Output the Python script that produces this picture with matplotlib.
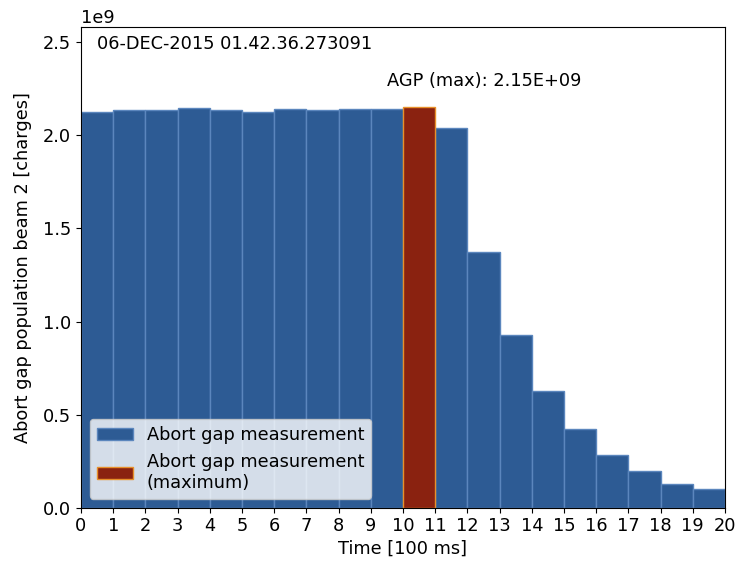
import numpy as np
import matplotlib
matplotlib.use("Agg")
import matplotlib.pyplot as plt

# abort gap population per 100 ms slot, beam 2
slots = np.arange(20)
agp = [2.127, 2.138, 2.134, 2.144, 2.138, 2.127, 2.143, 2.138, 2.143, 2.143,
       2.150, 2.038, 1.373, 0.927, 0.627, 0.422, 0.285, 0.196, 0.129, 0.102]
scale = 1e9
timestamp = "06-DEC-2015 01.42.36.273091"

agp = np.array(agp) * scale
imax = int(np.argmax(agp))
fs = 12.8

fig = plt.figure(figsize=(7.41, 5.62), dpi=100)
ax = fig.add_axes([0.1093, 0.0966, 0.8691, 0.8548])

mask = np.arange(len(agp)) != imax
ax.bar(slots[mask], agp[mask], width=1.0, align="edge", color="#2d5b94",
       edgecolor="#5b86bd", linewidth=1.0, label="Abort gap measurement")
ax.bar(slots[imax], agp[imax], width=1.0, align="edge", color="#8a2210",
       edgecolor="#e8902a", linewidth=1.0,
       label="Abort gap measurement\n(maximum)")

ax.set_xlim(0, 20)
ax.set_ylim(0, agp.max() * 1.2)
ax.set_xticks(np.arange(0, 21))
ax.set_xlabel("Time [100 ms]", fontsize=fs, labelpad=3)
ax.set_ylabel("Abort gap population beam 2 [charges]", fontsize=fs, labelpad=8)
ax.tick_params(labelsize=fs)
ax.yaxis.get_offset_text().set_fontsize(fs)

ax.text(0.5, 2.49e9, timestamp, fontsize=fs, va="center", ha="left")
ax.text(imax - 0.5, 2.29e9, f"AGP (max): {agp[imax]:.2E}", fontsize=fs,
        va="center", ha="left")

ax.legend(loc="lower left", fontsize=fs)

fig.savefig("out.png", dpi=100)
